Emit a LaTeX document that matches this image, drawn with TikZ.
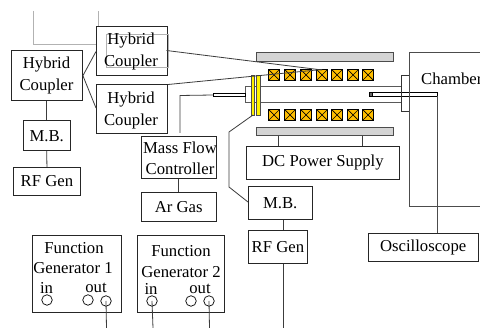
\documentclass[tikz,border=0pt]{standalone}
\usepackage{fontspec}
\setmainfont{Liberation Serif}
\definecolor{coil}{RGB}{255,190,0}
\definecolor{wire}{RGB}{60,60,60}
\tikzset{x=1pt,y=-1pt,
 boxn/.style={draw=black!85,line width=0.9pt,fill=white,align=center,inner sep=0pt,font=\fontsize{16.7}{21}\selectfont},
 wirel/.style={draw=wire,line width=0.8pt},
 thin grey/.style={draw=black!30,line width=0.7pt},
 bar/.style={draw=black!70,line width=1pt,fill=black!17},
 port/.style={circle,draw=black,line width=0.7pt,minimum size=10.5pt,inner sep=0pt,fill=none},
 lab/.style={inner sep=0pt,font=\fontsize{16.7}{21}\selectfont},
 coilbox/.style={draw=black,line width=0.8pt,fill=coil,minimum size=11pt,inner sep=0pt,path picture={\draw[black,line width=0.7pt] (path picture bounding box.north west)--(path picture bounding box.south east) (path picture bounding box.north east)--(path picture bounding box.south west);}}}
\newcommand{\bx}[4]{\node[boxn,minimum width=#3 pt,minimum height=#4 pt,anchor=north west] at (#1,#2)}
\begin{document}
\begin{tikzpicture}
\useasboundingbox (0,0) rectangle (480,328);
\fill[white] (0,0) rectangle (480,328);
\draw[thin grey] (33.5,11)--(33.5,44)--(98,44)--(98,11);
\bx{11}{50.5}{71}{49.5} (hc1) {};
\bx{96}{26}{70.5}{49.5} (hc2) {};
\bx{96}{84.5}{71}{49} (hc3) {};
\draw[thin grey] (106,34) rectangle (168,67);
\node[lab] (h1a) at (46.5,65) {Hybrid};
\node[lab] (h1b) at (46.5,86) {Coupler};
\node[lab] (h2a) at (131,41) {Hybrid};
\node[lab] (h2b) at (131,62) {Coupler};
\node[lab] (h3a) at (131,100) {Hybrid};
\node[lab] (h3b) at (131,121) {Coupler};
\bx{22.5}{120.5}{47.5}{29.5} (mb1) {M.B.};
\bx{13}{167}{67}{28} (rf1) {RF Gen};
\bx{140.5}{136}{75.5}{42} (mfc) {};
\node[lab] (mfca) at (180,148) {Mass Flow};
\node[lab] (mfcb) at (180,169) {Controller};
\bx{140.5}{192}{75.5}{29} (ar) {Ar Gas};
\bx{246}{146}{153}{33} (dc) {DC Power Supply};
\bx{248}{186}{63.5}{33} (mb2) {M.B.};
\bx{248}{230}{59}{33} (rf2) {RF Gen};
\bx{368}{233}{109.5}{28} (osc) {Oscilloscope};
\node[lab,anchor=west] (chl) at (421,79) {Chamber};
\draw[wirel] (hc1.east) -- (96,51.5);
\draw[wirel] (hc1.east) -- (96,108);
\draw[wirel] (hc1.south -| mb1.north) -- (mb1.north);
\draw[wirel] (mb1.south) -- (rf1.north);
\draw[wirel] (mfc.south) -- (ar.north);
\coordinate (e7) at (283,328);
\draw[wirel] (rf2.north -| e7) -- (mb2.south -| e7);
\bx{32}{235}{88.5}{77} (fg1) {};
\bx{137}{235}{87}{77} (fg2) {};
\node[lab] (f1a) at (74,248) {Function};
\node[lab] (f1b) at (73,268) {Generator 1};
\node[lab] (f1c) at (46.5,288) {in};
\node[lab] (f1d) at (96,288) {out};
\node[lab] (f2a) at (181,251) {Function};
\node[lab] (f2b) at (181,272) {Generator 2};
\node[lab] (f2c) at (151,289) {in};
\node[lab] (f2d) at (200,289) {out};
\node[port] (p1) at (47,300) {};
\node[port] (p2) at (88,300) {};
\node[port] (p3) at (106,301) {};
\node[port] (p4) at (152,301) {};
\node[port] (p5) at (191,301) {};
\node[port] (p6) at (209,301) {};
\coordinate (e3) at (106.5,328);\coordinate (e4) at (153,328);\coordinate (e6) at (209.5,328);
\draw[wirel] (p3.center)--(e3);
\draw[wirel] (p4.center)--(e4);
\draw[wirel] (p6.center)--(e6);
\draw[wirel] (rf2.south -| e7)--(e7);
\draw[bar] (256,53) rectangle (393,61.5);
\draw[bar] (256,127.5) rectangle (393,136);
\draw[wirel] (278.5,136)--(278.5,146);
\draw[wirel] (362,136)--(362,146);
\foreach \x/\n in {274/1,290/2,306/3,322/4,337/5,353/6,368/7}{
  \node[coilbox] (t\n) at (\x,75) {};
  \node[coilbox] (b\n) at (\x,115) {};
}
\draw[draw=black!65,line width=0.9pt] (401,86)--(245.5,86)--(245.5,102)--(401,102);
\draw[fill=yellow,draw=black!70,line width=0.7pt] (251,75) rectangle (254.5,115);
\draw[fill=yellow,draw=black!70,line width=0.7pt] (256.5,75) rectangle (260,115);
\draw[fill=white,draw=black,line width=0.7pt] (369,92.5) rectangle (437,96.5);
\draw[fill=black!60,draw=black,line width=0.5pt] (369,92.5) rectangle (372.5,96.5);
\draw[draw=black!80,line width=0.8pt] (401,75) rectangle (409.5,111.5);
\draw[draw=black!70,line width=1pt] (480,53)--(409.5,53)--(409.5,207)--(480,207);
\draw[draw=black!70,line width=0.8pt] (437,96.5)--(437,233);
\draw[wirel] (166.5,50.5)--(322,70);
\draw[wirel] (168,84.5)--(322,69.5);
\draw[wirel] (180,133)--(180,95.5)--(213,95);
\draw[fill=white,draw=black,line width=0.6pt] (213,93.5) rectangle (245.5,96.5);
\draw[wirel] (253,115)--(229,132)--(229,187)--(248,202);
\end{tikzpicture}
\end{document}
